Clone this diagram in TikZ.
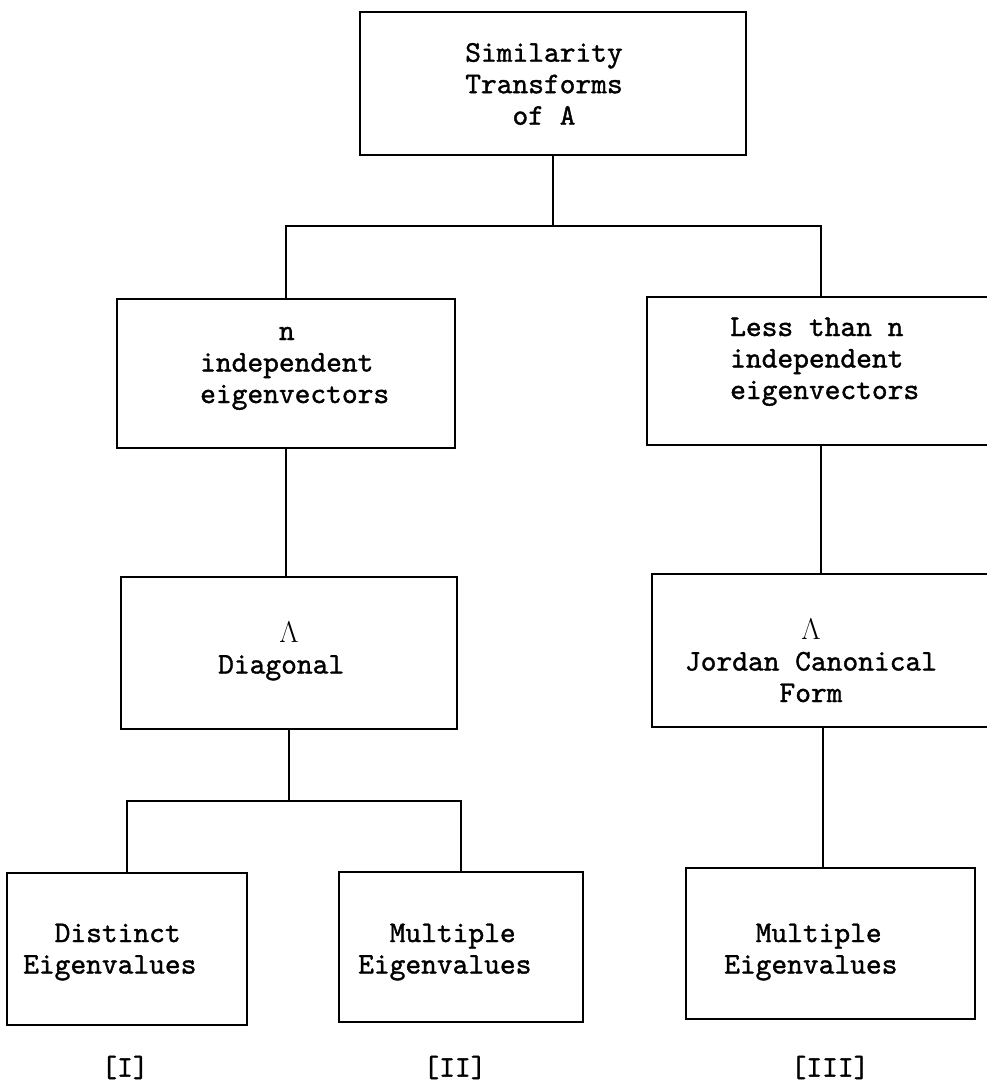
\RequirePackage{fix-cm}
\documentclass[tikz,border=0pt]{standalone}
\usepackage{fontspec}
\newfontfamily\tw{lmmono10-regular.otf}[FakeBold=1.2]
\begin{document}
\begin{tikzpicture}[x=1pt,y=-1pt,
  box/.style 2 args={draw,line width=1.7pt,inner sep=0pt,minimum width=#1,minimum height=#2},
  txt/.style={font=\fontsize{30}{31.5}\selectfont\tw,inner sep=0pt,align=left},
  txtc/.style={font=\fontsize{30}{31.5}\selectfont\tw,inner sep=0pt,align=center},
  conn/.style={line width=1.7pt}]
\clip (0,0) rectangle (987,1082);
\useasboundingbox (0,0) rectangle (987,1082);
% boxes
\node[box={386pt}{143pt}] (top) at (553,83.5) {};
\node[box={338pt}{149pt}] (nind) at (286,373.5) {};
\node[box={348pt}{148pt}] (less) at (821,371) {};
\node[box={336pt}{152pt}] (diag) at (289,653) {};
\node[box={342pt}{153pt}] (jordan) at (823,650.5) {};
\node[box={240pt}{152pt}] (dist) at (127,949) {};
\node[box={244pt}{150pt}] (mult) at (461,947) {};
\node[box={289pt}{151pt}] (multb) at (830.5,943.5) {};
% texts
\node[txtc] (ttop) at (544,86.9) {\strut Similarity\\Transforms\\of A\strut};
\node[txt,anchor=west] (tnind) at (200,365.2) {\strut\hphantom{xxxxx}n\\independent\\eigenvectors\strut};
\node[txt,anchor=west] (tless) at (730,361.2) {\strut Less than n\\independent\\eigenvectors\strut};
\node[txt,anchor=west] (tdiag) at (218,651.5) {\strut\hphantom{xxxx}\makebox[0.525em]{$\Lambda$}\\Diagonal\strut};
\node[txtc] (tjordan) at (811,664.2) {\strut\makebox[0.525em]{$\Lambda$}\\Jordan Canonical\\Form\strut};
\node[txt,anchor=west] (tdist) at (23,951.5) {\strut\hphantom{xx}Distinct\\Eigenvalues\strut};
\node[txt,anchor=west] (tmult) at (358,951.5) {\strut\hphantom{xx}Multiple\\Eigenvalues\strut};
\node[txt,anchor=west] (tmultb) at (724,951.5) {\strut\hphantom{xx}Multiple\\Eigenvalues\strut};
% labels
\node[txtc] (l1) at (125,1067.5) {[I]};
\node[txtc] (l2) at (455,1067.5) {[II]};
\node[txtc] (l3) at (830,1067.5) {[III]};
% connectors
\draw[conn] (top.south) -- ++(0,70) coordinate (j1);
\draw[conn] (nind.north) |- (j1) -| (less.north);
\draw[conn] (nind.south) -- (nind.south |- diag.north);
\draw[conn] (less.south) -- (less.south |- jordan.north);
\draw[conn] (diag.south) -- ++(0,71) coordinate (j2);
\draw[conn] (dist.north) |- (j2) -| (mult.north);
\draw[conn] (jordan.south) -- (jordan.south |- multb.north);
\end{tikzpicture}
\end{document}
